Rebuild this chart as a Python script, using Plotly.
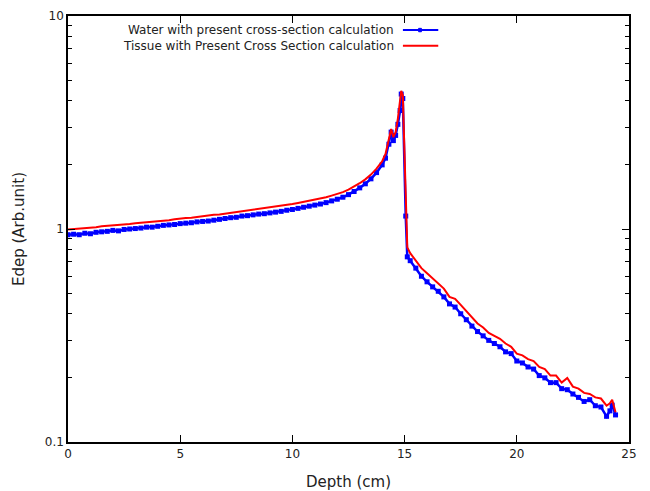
import plotly.graph_objects as go

BLUE = '#0000ff'
RED = '#ff0000'
FONT = 'DejaVu Sans'
TEXT_COLOR = '#222222'

depth = [
    0.0, 0.25, 0.5, 0.75, 1.0, 1.25, 1.5, 1.75, 2.0, 2.25, 2.5, 2.75,
    3.0, 3.25, 3.5, 3.75, 4.0, 4.25, 4.5, 4.75, 5.0, 5.25, 5.5, 5.75,
    6.0, 6.25, 6.5, 6.75, 7.0, 7.25, 7.5, 7.75, 8.0, 8.25, 8.5, 8.75,
    9.0, 9.25, 9.5, 9.75, 10.0, 10.25, 10.5, 10.75, 11.0, 11.25, 11.5, 11.75,
    12.0, 12.25, 12.5, 12.75, 13.0, 13.25, 13.5, 13.75, 14.0, 14.15, 14.3, 14.4,
    14.5, 14.6, 14.7, 14.8, 14.85, 14.92, 15.05, 15.12, 15.25, 15.5, 15.75,
    16.0, 16.25, 16.5, 16.75, 17.0, 17.25, 17.5, 17.75, 18.0, 18.25, 18.5, 18.75,
    19.0, 19.25, 19.5, 19.75, 20.0, 20.25, 20.5, 20.75, 21.0, 21.25, 21.5, 21.75,
    22.0, 22.25, 22.5, 22.75, 23.0, 23.25, 23.5, 23.75, 24.0, 24.15, 24.25, 24.4,
]

water = [
    0.94, 0.945, 0.94, 0.955, 0.95, 0.965, 0.97, 0.975, 0.985, 0.98, 0.995, 1.0,
    1.005, 1.01, 1.02, 1.02, 1.03, 1.04, 1.045, 1.05, 1.06, 1.065, 1.07, 1.08,
    1.085, 1.09, 1.10, 1.11, 1.12, 1.13, 1.135, 1.15, 1.155, 1.165, 1.175, 1.18,
    1.19, 1.20, 1.21, 1.225, 1.235, 1.25, 1.265, 1.28, 1.295, 1.31, 1.33, 1.355,
    1.38, 1.41, 1.45, 1.50, 1.56, 1.63, 1.72, 1.84, 2.0, 2.15, 2.5, 2.85,
    2.6, 2.75, 3.1, 3.6, 4.3, 4.1, 1.15, 0.74, 0.71, 0.655, 0.60,
    0.565, 0.535, 0.51, 0.48, 0.445, 0.43, 0.40, 0.375, 0.35, 0.33, 0.315, 0.30,
    0.29, 0.28, 0.265, 0.26, 0.24, 0.235, 0.225, 0.22, 0.205, 0.2, 0.19, 0.19,
    0.178, 0.176, 0.168, 0.162, 0.155, 0.158, 0.148, 0.146, 0.132, 0.14, 0.149, 0.134,
]

tissue = [
    0.995, 1.0, 0.998, 1.01, 1.015, 1.02, 1.03, 1.035, 1.04, 1.04, 1.05, 1.055,
    1.065, 1.07, 1.075, 1.08, 1.09, 1.095, 1.10, 1.11, 1.12, 1.125, 1.13, 1.14,
    1.145, 1.155, 1.165, 1.17, 1.18, 1.19, 1.20, 1.215, 1.22, 1.23, 1.245, 1.25,
    1.26, 1.27, 1.28, 1.295, 1.31, 1.325, 1.34, 1.355, 1.37, 1.39, 1.41, 1.435,
    1.46, 1.49, 1.53, 1.58, 1.64, 1.71, 1.80, 1.92, 2.08, 2.25, 2.6, 2.95,
    2.7, 2.85, 3.3, 3.9, 4.45, 4.25, 1.25, 0.82, 0.77, 0.71, 0.655,
    0.62, 0.585, 0.555, 0.525, 0.48, 0.47, 0.44, 0.41, 0.385, 0.36, 0.345, 0.325,
    0.315, 0.305, 0.29, 0.28, 0.26, 0.255, 0.245, 0.24, 0.225, 0.22, 0.205, 0.205,
    0.19, 0.2, 0.182, 0.178, 0.17, 0.168, 0.162, 0.16, 0.148, 0.152, 0.158, 0.138,
]

legend_labels = [
    'Water with present cross-section calculation',
    'Tissue with Present Cross Section calculation',
]


def axis_style() -> dict:
    return {
        'showline': True,
        'linewidth': 1.5,
        'linecolor': 'black',
        'mirror': 'ticks',
        'ticks': 'inside',
        'ticklen': 7,
        'tickwidth': 1,
        'tickcolor': 'black',
        'showgrid': False,
        'zeroline': False,
        'automargin': False,
        'tickfont': {'family': FONT, 'size': 12, 'color': TEXT_COLOR},
    }


fig = go.Figure()

fig.add_trace(go.Scatter(
    x=depth, y=water, mode='lines+markers',
    line={'color': BLUE, 'width': 2.5},
    marker={'color': BLUE, 'size': 5, 'symbol': 'square'},
    showlegend=False,
))
fig.add_trace(go.Scatter(
    x=depth, y=tissue, mode='lines',
    line={'color': RED, 'width': 2},
    showlegend=False,
))

xaxis = axis_style()
xaxis.update({
    'range': [0, 25],
    'tick0': 0,
    'dtick': 5,
    'title': {'text': 'Depth (cm)', 'font': {'family': FONT, 'size': 15, 'color': TEXT_COLOR},
              'standoff': 16},
})

yaxis = axis_style()
yaxis.update({
    'type': 'log',
    'range': [-1, 1],
    'tickmode': 'array',
    'tickvals': [0.1, 1, 10],
    'ticktext': ['0.1', '1', '10'],
    'minor': {'ticks': 'inside', 'ticklen': 4, 'tickcolor': 'black', 'dtick': 'D1',
              'showgrid': False},
    'title': {'text': 'Edep (Arb.unit)', 'font': {'family': FONT, 'size': 15, 'color': TEXT_COLOR},
              'standoff': 17},
})

# gnuplot-style key: text first, line sample on its right
key_rows = [(0.967, BLUE, True), (0.930, RED, False)]
for label, (ypos, color, has_marker) in zip(legend_labels, key_rows):
    fig.add_annotation(
        x=0.585, y=ypos, xref='paper', yref='paper', xanchor='right', yanchor='middle',
        text=label, showarrow=False,
        font={'family': FONT, 'size': 12, 'color': TEXT_COLOR},
    )
    fig.add_shape(type='line', xref='paper', yref='paper',
                  x0=0.597, x1=0.660, y0=ypos, y1=ypos,
                  line={'color': color, 'width': 2})
    if has_marker:
        fig.add_shape(type='rect', xref='paper', yref='paper',
                      x0=0.625, x1=0.630, y0=ypos - 0.004, y1=ypos + 0.004,
                      line={'color': color, 'width': 1}, fillcolor=color)

# page body adds an 8px offset, so the figure is sized to fit the window
fig.update_layout(
    width=642,
    height=483,
    margin={'l': 60, 'r': 21, 't': 8, 'b': 49},
    plot_bgcolor='white',
    paper_bgcolor='white',
    xaxis=xaxis,
    yaxis=yaxis,
    font={'family': FONT, 'color': TEXT_COLOR},
)

fig.write_html('out.html')
